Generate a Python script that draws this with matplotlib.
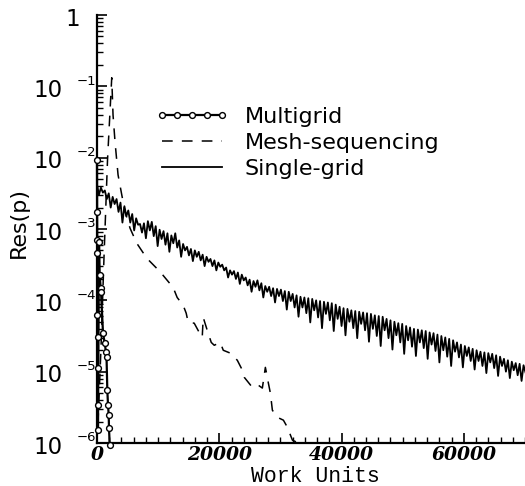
import numpy as np
import matplotlib
matplotlib.use("Agg")
import matplotlib.pyplot as plt
from matplotlib.ticker import MultipleLocator, LogLocator, NullFormatter, FixedLocator

# ---------------- data (residuals as log10 values) ----------------
mg_x = [0, 20, 40, 60, 80, 100, 120, 140, 160, 328, 443, 606, 656, 983, 1262,
        1475, 1560, 1688, 1803, 1918, 1960, 2082]
mg_logres = [-2.03, -2.76, -3.16, -3.34, -4.21, -4.52, -4.95, -5.47, -5.82,
             -3.18, -3.65, -3.83, -3.88, -4.46, -4.60, -4.73, -4.80, -5.26,
             -5.47, -5.61, -5.79, -6.03]

ms_x = [0, 50, 100, 164, 656, 1147, 1721, 2410, 2622, 2950, 3442, 4048, 4589,
        5409, 6507, 8146, 10326, 12456, 13112, 14095, 14587, 14915, 15898,
        16718, 17209, 17373, 18029, 18685, 19176, 20160, 20651, 21799, 22946,
        23602, 24093, 24749, 25405, 26388, 27044, 27536, 27863, 28027, 28355,
        28683, 29502, 30486, 31141, 31961, 32944]
ms_logres = [-3.2, -4.3, -5.4, -5.72, -4.66, -3.39, -2.03, -0.88, -1.40, -1.78,
             -2.24, -2.52, -2.76, -2.99, -3.20, -3.41, -3.60, -3.82, -3.96,
             -4.07, -4.18, -4.31, -4.32, -4.45, -4.52, -4.24, -4.42, -4.59,
             -4.63, -4.59, -4.70, -4.74, -4.84, -4.95, -5.08, -5.15, -5.22,
             -5.19, -5.23, -4.94, -5.08, -5.16, -5.30, -5.54, -5.64, -5.68,
             -5.78, -5.96, -6.00]

sg_step = 320  # work units between recorded samples (peak / trough alternate)
sg_peaks = [-2.38, -2.42, -2.46, -2.50, -2.55, -2.58, -2.63, -2.68, -2.74, -2.79,
            -2.85, -2.93, -2.92, -2.89, -2.90, -2.96, -3.01, -3.03, -3.06, -3.09,
            -3.06, -3.16, -3.21, -3.25, -3.28, -3.30, -3.32, -3.36, -3.39, -3.42,
            -3.44, -3.47, -3.50, -3.54, -3.58, -3.59, -3.61, -3.64, -3.68, -3.71,
            -3.73, -3.72, -3.76, -3.80, -3.81, -3.83, -3.84, -3.85, -3.87, -3.88,
            -3.91, -3.93, -3.95, -3.96, -3.97, -3.98, -4.00, -4.01, -4.02, -4.03,
            -4.04, -4.06, -4.09, -4.11, -4.12, -4.14, -4.15, -4.16, -4.17, -4.18,
            -4.19, -4.21, -4.22, -4.23, -4.26, -4.28, -4.30, -4.32, -4.33, -4.36,
            -4.38, -4.40, -4.41, -4.42, -4.43, -4.45, -4.46, -4.48, -4.50, -4.52,
            -4.54, -4.56, -4.59, -4.62, -4.64, -4.66, -4.68, -4.70, -4.72, -4.73,
            -4.74, -4.75, -4.77, -4.79, -4.82, -4.84, -4.86, -4.88, -4.89, -4.91]
sg_troughs = [-2.52, -2.49, -2.58, -2.70, -2.65, -2.76, -2.91, -2.82, -2.91, -3.02,
              -2.94, -3.05, -3.13, -3.02, -3.10, -3.24, -3.14, -3.22, -3.32, -3.20,
              -3.26, -3.39, -3.30, -3.37, -3.45, -3.39, -3.44, -3.52, -3.46, -3.52,
              -3.58, -3.53, -3.58, -3.68, -3.64, -3.70, -3.77, -3.72, -3.79, -3.88,
              -3.81, -3.86, -3.96, -3.88, -3.94, -4.03, -3.94, -4.01, -4.13, -4.01,
              -4.10, -4.23, -4.10, -4.18, -4.31, -4.14, -4.24, -4.39, -4.19, -4.28,
              -4.43, -4.26, -4.36, -4.49, -4.30, -4.39, -4.53, -4.33, -4.42, -4.58,
              -4.40, -4.50, -4.64, -4.42, -4.53, -4.69, -4.49, -4.59, -4.75, -4.56,
              -4.65, -4.78, -4.59, -4.67, -4.82, -4.62, -4.71, -4.87, -4.70, -4.79,
              -4.92, -4.72, -4.80, -4.94, -4.78, -4.85, -4.97, -4.85, -4.92, -5.02,
              -4.87, -4.95, -5.06, -4.92, -5.00, -5.09, -4.98, -5.05, -5.13, -5.01]

ytick_exponents = [0, -1, -2, -3, -4, -5, -6]
xtick_values = [0, 20000, 40000, 60000]
xtick_labels = ["0", "20000", "40000", "60000"]
legend_labels = ["Multigrid", "Mesh-sequencing", "Single-grid"]
x_label = "Work Units"
y_label = "Res(p)"

# ---------------- build series ----------------
sg_log = np.empty(2 * len(sg_peaks))
sg_log[0::2] = sg_peaks
sg_log[1::2] = sg_troughs
sg_x = np.arange(len(sg_log)) * sg_step

mg_y = 10.0 ** np.array(mg_logres)
ms_y = 10.0 ** np.array(ms_logres)
sg_y = 10.0 ** sg_log

# ---------------- figure ----------------
fig = plt.figure(figsize=(5.25, 4.86), dpi=100)
ax = fig.add_axes([97 / 525, 43 / 486, 428 / 525, 428 / 486])
ax.set_yscale("log")
ax.set_xlim(0, 70000)
ax.set_ylim(1e-6, 1)

l_mg, = ax.plot(mg_x, mg_y, color="black", lw=1.6, marker="o", ms=4.2,
                mfc="white", mec="black", mew=1.0, clip_on=False, zorder=4)
l_ms, = ax.plot(ms_x, ms_y, color="black", lw=1.1, dashes=(7, 6), zorder=3)
l_sg, = ax.plot(sg_x, sg_y, color="black", lw=1.3, zorder=2)

for s in ("top", "right"):
    ax.spines[s].set_visible(False)
for s in ("left", "bottom"):
    ax.spines[s].set_linewidth(1.6)

ax.xaxis.set_major_locator(FixedLocator(xtick_values))
ax.xaxis.set_minor_locator(MultipleLocator(2000))
ax.set_xticklabels(xtick_labels, fontfamily="DejaVu Serif", fontweight="bold",
                   fontstyle="italic", fontsize=13.5)
ax.yaxis.set_major_locator(LogLocator(base=10, numticks=10))
ax.yaxis.set_minor_locator(LogLocator(base=10, subs=np.arange(2, 10), numticks=10))
ax.yaxis.set_major_formatter(NullFormatter())
ax.yaxis.set_minor_formatter(NullFormatter())
ax.tick_params(which="major", direction="in", length=7, width=1.2, pad=2)
ax.tick_params(which="minor", direction="in", length=4, width=1.0)

for e in ytick_exponents:
    yv = 10.0 ** e
    if e == 0:
        ax.annotate("1", xy=(0, yv), xycoords=("axes fraction", "data"),
                    xytext=(-12, -3), textcoords="offset points",
                    ha="right", va="center", fontsize=16.5, annotation_clip=False)
    else:
        ax.annotate("10", xy=(0, yv), xycoords=("axes fraction", "data"),
                    xytext=(-25, -3), textcoords="offset points",
                    ha="right", va="center", fontsize=16.5, annotation_clip=False)
        ax.annotate("\u2212" + str(abs(e)), xy=(0, yv),
                    xycoords=("axes fraction", "data"),
                    xytext=(-14.5, 3.8), textcoords="offset points",
                    ha="left", va="center", fontsize=9.5, annotation_clip=False)

fig.text(315 / 525, 1 - 476 / 486, x_label, fontfamily="Liberation Mono",
         fontsize=15.5, ha="center", va="center")
fig.text(19 / 525, 1 - 222 / 486, y_label, fontsize=16, rotation=90,
         ha="center", va="center")

leg = ax.legend([l_mg, l_ms, l_sg], legend_labels, loc="upper left",
                bbox_to_anchor=(0.137, 0.785), frameon=False, fontsize=16,
                handlelength=3.3, handletextpad=0.7, labelspacing=0.26,
                borderpad=0, borderaxespad=0, numpoints=5)

fig.savefig("out.png", dpi=100)
